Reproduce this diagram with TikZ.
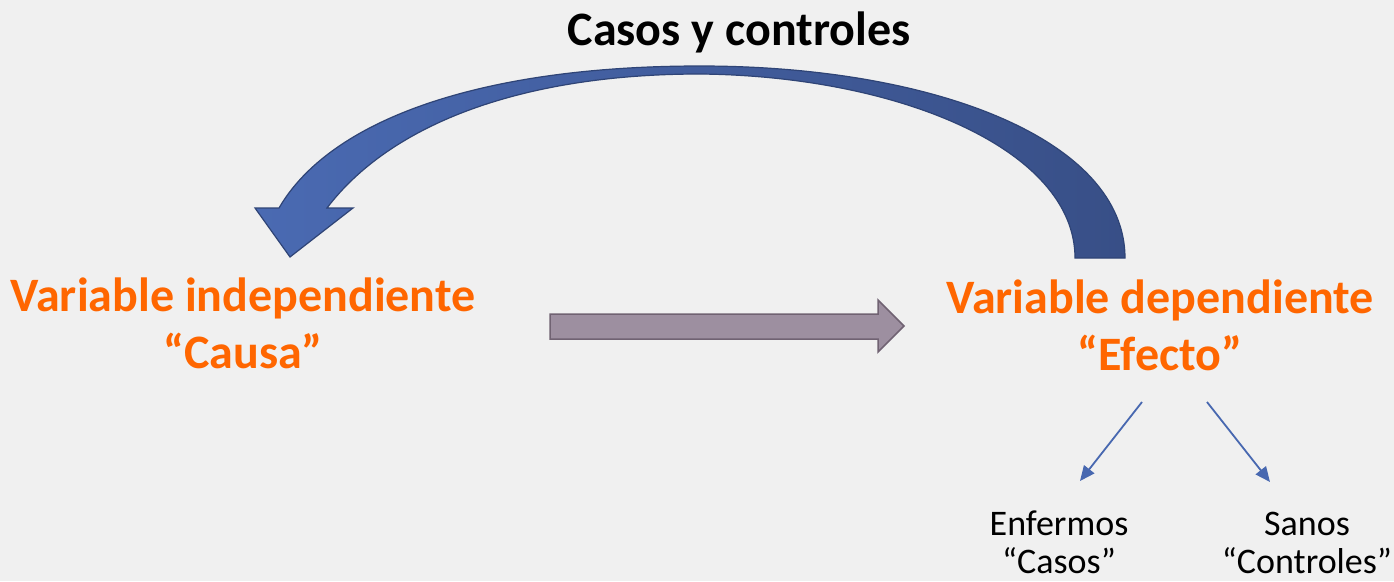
\documentclass[tikz,border=0pt]{standalone}
\usepackage{fontspec}
\setmainfont{Carlito}
\usetikzlibrary{arrows.meta}
\definecolor{bg}{RGB}{240,240,240}
\definecolor{orangeT}{RGB}{255,102,0}
\definecolor{blueL}{RGB}{74,106,178}
\definecolor{blueD}{RGB}{56,79,135}
\definecolor{blueE}{RGB}{47,68,118}
\definecolor{mauve}{RGB}{157,143,160}
\definecolor{mauveE}{RGB}{112,98,114}
\definecolor{thinblue}{RGB}{72,104,176}
\begin{document}
\begin{tikzpicture}[x=1pt,y=-1pt,
  bigtext/.style={font=\fontsize{48}{57}\selectfont\bfseries, text=orangeT, align=center, inner sep=0pt},
  titletext/.style={font=\fontsize{48}{57}\selectfont\bfseries, text=black, inner sep=0pt},
  smalltext/.style={font=\fontsize{36}{38}\selectfont, text=black, align=center, inner sep=0pt},
  thinarrow/.style={thinblue, line width=1.8pt, -{Triangle[length=15pt,width=13pt]}},
  curvedarrow/.style={draw=blueE, line width=1.2pt, left color=blueL, right color=blueD},
  blockarrow/.style={draw=mauveE, fill=mauve, line width=1.5pt}
]
\fill[bg] (0,0) rectangle (1394,581);
\useasboundingbox (0,0) rectangle (1394,581);

% curved arrow
\path[curvedarrow] (1125,258) .. controls (1125,140) and (935,66) .. (700,66)
  .. controls (480,66) and (330,120) .. (279,208) -- (255,208) -- (290,257) -- (353,208) -- (327,208)
  .. controls (390,125) and (520,74) .. (700,74)
  .. controls (900,76) and (1075,150) .. (1075,258) -- cycle;

% block arrow
\path[blockarrow] (550,314) -- (878,314) -- (878,300) -- (904,326) -- (878,352) -- (878,339) -- (550,339) -- cycle;

\node[titletext, anchor=base] (title) at (739,45) {Casos y controles};
\node[bigtext] (indep) at (243,323) {Variable independiente\\“Causa”};
\node[bigtext] (dep) at (1160,325) {Variable dependiente\\“Efecto”};
\node[smalltext] (enf) at (1059,542) {Enfermos\\“Casos”};
\node[smalltext] (san) at (1307,543) {Sanos\\“Controles”};

\coordinate (a1) at (1142,402);
\coordinate (a2) at (1080,481);
\coordinate (b1) at (1207,402);
\coordinate (b2) at (1270,482);
\draw[thinarrow] (a1) -- (a2);
\draw[thinarrow] (b1) -- (b2);
\end{tikzpicture}
\end{document}
